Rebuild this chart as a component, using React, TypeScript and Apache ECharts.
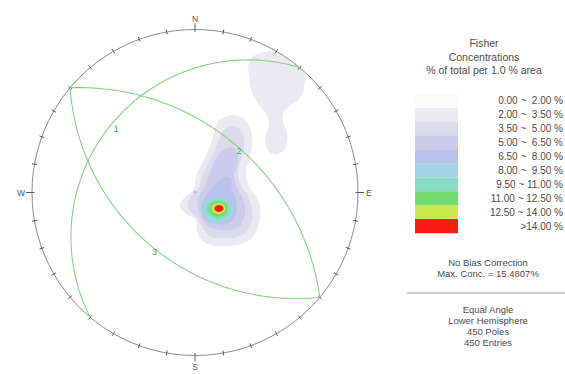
import React, { useEffect, useRef } from 'react';
import * as echarts from 'echarts';

// ---- Planes (dip direction / dip, degrees) ----
const planeLabels = ['1', '2', '3'];
const planeDipDirections = [310, 40, 220];
const planeDips = [23, 48, 44];

// ---- Net decorations ----
const cardinalLabels = ['N', 'E', 'S', 'W'];
const cardinalAzimuths = [0, 90, 180, 270];
const tickStep = 10;

// ---- Legend ----
const legendTitle = ['Fisher', 'Concentrations', '% of total per 1.0 % area'];
const bandLabels = [
  '0.00 ~  2.00 %',
  '2.00 ~  3.50 %',
  '3.50 ~  5.00 %',
  '5.00 ~  6.50 %',
  '6.50 ~  8.00 %',
  '8.00 ~  9.50 %',
  '9.50 ~ 11.00 %',
  '11.00 ~ 12.50 %',
  '12.50 ~ 14.00 %',
  '>14.00 %',
];
const bandColors = [
  '#fafafb',
  '#ebeaf0',
  '#dddaec',
  '#cccbec',
  '#b7c3ea',
  '#a0d4e6',
  '#88dcc4',
  '#72dc72',
  '#cce84c',
  '#ff1a10',
];
const statsLines = ['No Bias Correction', 'Max. Conc. = 15.4807%'];
const projectionLines = ['Equal Angle', 'Lower Hemisphere', '450 Poles', '450 Entries'];

// ---- Density contours, net coordinates (primitive radius = 1) ----
const blobNorthEast = [
  [0.337, 0.813], [0.411, 0.856], [0.497, 0.862], [0.571, 0.819], [0.632, 0.776],
  [0.669, 0.727], [0.669, 0.641], [0.632, 0.567], [0.583, 0.531], [0.546, 0.494],
  [0.540, 0.433], [0.564, 0.371], [0.558, 0.285], [0.521, 0.242], [0.466, 0.242],
  [0.436, 0.285], [0.436, 0.359], [0.454, 0.420], [0.429, 0.494], [0.387, 0.543],
  [0.350, 0.617], [0.331, 0.715],
];
const clusterBand1 = [
  [0.166, 0.457], [0.264, 0.469], [0.325, 0.420], [0.350, 0.322], [0.337, 0.212],
  [0.313, 0.126], [0.337, 0.028], [0.387, -0.046], [0.399, -0.144], [0.374, -0.242],
  [0.313, -0.304], [0.202, -0.328], [0.080, -0.316], [0.018, -0.255], [0.006, -0.169],
  [-0.055, -0.132], [-0.092, -0.083], [-0.067, -0.034], [-0.012, 0.015], [0.006, 0.101],
  [0.055, 0.199], [0.104, 0.322], [0.129, 0.408],
];
const clusterBand2 = [
  [0.190, 0.396], [0.264, 0.396], [0.301, 0.322], [0.288, 0.224], [0.264, 0.138],
  [0.276, 0.052], [0.325, -0.021], [0.350, -0.107], [0.337, -0.206], [0.276, -0.267],
  [0.178, -0.279], [0.092, -0.267], [0.043, -0.206], [0.006, -0.144], [-0.043, -0.095],
  [-0.031, -0.034], [0.018, 0.015], [0.043, 0.101], [0.092, 0.199], [0.141, 0.310],
];
const clusterBand3 = [
  [0.178, 0.261], [0.239, 0.273], [0.264, 0.199], [0.239, 0.101], [0.264, 0.015],
  [0.301, -0.058], [0.301, -0.156], [0.252, -0.218], [0.166, -0.230], [0.080, -0.206],
  [0.031, -0.132], [0.018, -0.046], [0.055, 0.028], [0.092, 0.126], [0.129, 0.212],
];
const clusterBand4 = [
  [0.166, 0.089], [0.215, 0.089], [0.227, 0.015], [0.252, -0.046], [0.252, -0.132],
  [0.215, -0.181], [0.141, -0.193], [0.067, -0.169], [0.043, -0.095], [0.067, -0.021],
  [0.117, 0.040],
];
// Peak region: [centre x, centre y, radius x, radius y, band]
const peakEllipses = [
  [0.138, -0.107, 0.092, 0.080, 5],
  [0.141, -0.104, 0.074, 0.064, 6],
  [0.141, -0.101, 0.058, 0.049, 7],
  [0.144, -0.098, 0.043, 0.034, 8],
  [0.147, -0.098, 0.028, 0.021, 9],
  [0.000, 0.003, 0.011, 0.011, 4],
];

const contourPolygons = [
  { band: 1, points: blobNorthEast },
  { band: 1, points: clusterBand1 },
  { band: 2, points: clusterBand2 },
  { band: 3, points: clusterBand3 },
  { band: 4, points: clusterBand4 },
];

const D = Math.PI / 180;
const FONT = 'Liberation Sans, Arial, sans-serif';
const TEXT_COLOR = '#4d4d4d';
const PLANE_COLOR = '#84d284';

// Stereographic (equal angle) projection of a line, lower hemisphere
function projectLine(trend: number, plunge: number): number[] {
  const r = Math.tan(((90 - plunge) * D) / 2);
  return [r * Math.sin(trend * D), r * Math.cos(trend * D)];
}

function greatCircle(dipDir: number, dip: number): number[][] {
  const s = (dipDir - 90) * D;
  const dd = dipDir * D;
  const dp = dip * D;
  const pts: number[][] = [];
  for (let t = 0; t <= 180; t += 1) {
    const a = t * D;
    const e = Math.cos(a) * Math.sin(s) + Math.sin(a) * Math.cos(dp) * Math.sin(dd);
    const n = Math.cos(a) * Math.cos(s) + Math.sin(a) * Math.cos(dp) * Math.cos(dd);
    const d = Math.sin(a) * Math.sin(dp);
    const plunge = Math.asin(Math.min(1, d)) / D;
    const trend = Math.atan2(e, n) / D;
    pts.push(projectLine(trend, plunge));
  }
  return pts;
}

function textStyle(text: string, size: number, align: string) {
  return {
    text, fill: TEXT_COLOR, fontSize: size, fontFamily: FONT,
    textAlign: align, textVerticalAlign: 'middle', align, verticalAlign: 'middle',
  };
}

function buildOption(): any {
  const R = 163;
  const cx = 195;
  const cy = 192.5;
  const barTop = 94;
  const bandH = 13.9;

  const graphic: any[] = [];
  legendTitle.forEach((t, i) => {
    graphic.push({ type: 'text', x: 484, y: 43 + i * 13.5, style: textStyle(t, 10.5, 'center') });
  });
  bandColors.forEach((c, i) => {
    graphic.push({ type: 'rect', shape: { x: 415, y: barTop + i * bandH, width: 43, height: bandH + 0.2 }, style: { fill: c } });
  });
  bandLabels.forEach((t, i) => {
    graphic.push({ type: 'text', x: 563, y: barTop + (i + 0.5) * bandH, style: textStyle(t, 10, 'right') });
  });
  statsLines.forEach((t, i) => {
    graphic.push({ type: 'text', x: 488, y: 262 + i * 11.5, style: textStyle(t, 9.5, 'center') });
  });
  graphic.push({ type: 'line', shape: { x1: 407, y1: 293, x2: 565, y2: 293 }, style: { stroke: '#9a9a9a', lineWidth: 1 } });
  projectionLines.forEach((t, i) => {
    graphic.push({ type: 'text', x: 488, y: 309 + i * 11.2, style: textStyle(t, 9.5, 'center') });
  });

  const tickAzimuths: number[] = [];
  for (let az = 0; az < 360; az += tickStep) tickAzimuths.push(az);

  const series: any[] = [];

  // Filled density contours
  series.push({
    type: 'custom',
    coordinateSystem: 'cartesian2d',
    clip: false,
    silent: true,
    data: contourPolygons.map((p) => p.points[0]),
    renderItem: (params: any, api: any) => {
      const poly = contourPolygons[params.dataIndex];
      return {
        type: 'polygon',
        shape: { points: poly.points.map((p) => api.coord(p)), smooth: 0.45 },
        style: { fill: bandColors[poly.band], stroke: 'none' },
      };
    },
    z: 1,
  });
  series.push({
    type: 'custom',
    coordinateSystem: 'cartesian2d',
    clip: false,
    silent: true,
    data: peakEllipses.map((e) => [e[0], e[1]]),
    renderItem: (params: any, api: any) => {
      const e = peakEllipses[params.dataIndex];
      const c = api.coord([e[0], e[1]]);
      const s = api.size([e[2], e[3]]);
      return {
        type: 'ellipse',
        shape: { cx: c[0], cy: c[1], rx: s[0], ry: s[1] },
        style: { fill: bandColors[e[4]], stroke: 'none' },
      };
    },
    z: 2,
  });

  // Primitive circle, ticks and compass letters
  series.push({
    type: 'custom',
    coordinateSystem: 'cartesian2d',
    clip: false,
    silent: true,
    data: [[0, 0]],
    renderItem: (_params: any, api: any) => {
      const c = api.coord([0, 0]);
      const r = api.size([1, 0])[0];
      const children: any[] = [
        { type: 'circle', shape: { cx: c[0], cy: c[1], r }, style: { fill: 'none', stroke: '#8c8c8c', lineWidth: 1 } },
      ];
      tickAzimuths.forEach((az) => {
        const cardinal = cardinalAzimuths.indexOf(az) >= 0;
        const r0 = r - 2.5;
        const r1 = r + (cardinal ? 6 : 2.5);
        const sx = Math.sin(az * D);
        const sy = Math.cos(az * D);
        children.push({
          type: 'line',
          shape: { x1: c[0] + r0 * sx, y1: c[1] - r0 * sy, x2: c[0] + r1 * sx, y2: c[1] - r1 * sy },
          style: { stroke: '#5a5a5a', lineWidth: 1 },
        });
      });
      cardinalLabels.forEach((t, i) => {
        const az = cardinalAzimuths[i];
        const rr = r + 11;
        children.push({
          type: 'text',
          x: c[0] + rr * Math.sin(az * D),
          y: c[1] - rr * Math.cos(az * D),
          style: { ...textStyle(t, 8.5, 'center'), fill: '#555' },
        });
      });
      return { type: 'group', children };
    },
    z: 3,
  });

  // Planes as great circles
  planeLabels.forEach((name, i) => {
    series.push({
      type: 'line',
      name: 'Plane ' + name,
      data: greatCircle(planeDipDirections[i], planeDips[i]),
      showSymbol: false,
      symbol: 'none',
      smooth: false,
      clip: false,
      silent: true,
      lineStyle: { color: PLANE_COLOR, width: 1.1 },
      z: 4,
    });
  });

  // Plane labels at the dip-direction point of each arc
  series.push({
    type: 'custom',
    coordinateSystem: 'cartesian2d',
    clip: false,
    silent: true,
    data: planeLabels.map((_, i) => projectLine(planeDipDirections[i], planeDips[i])),
    renderItem: (params: any, api: any) => {
      const p = api.coord([api.value(0), api.value(1)]);
      return {
        type: 'text',
        x: p[0] + 4,
        y: p[1] + 6,
        style: { ...textStyle(planeLabels[params.dataIndex], 9, 'center'), fill: '#3cb43c' },
      };
    },
    z: 5,
  });

  return {
    animation: false,
    backgroundColor: '#ffffff',
    grid: { left: cx - R, top: cy - R, width: 2 * R, height: 2 * R },
    xAxis: { type: 'value', min: -1, max: 1, show: false },
    yAxis: { type: 'value', min: -1, max: 1, show: false },
    graphic,
    series,
  };
}

export default function App() {
  const ref = useRef<HTMLDivElement>(null);
  useEffect(() => {
    const chart = echarts.init(ref.current as HTMLDivElement, null, { renderer: 'svg' });
    chart.setOption(buildOption());
    return () => chart.dispose();
  }, []);
  return (
    <div
      ref={ref}
      style={{ position: 'fixed', left: 0, top: 0, width: 565, height: 374, background: '#fff' }}
    />
  );
}
